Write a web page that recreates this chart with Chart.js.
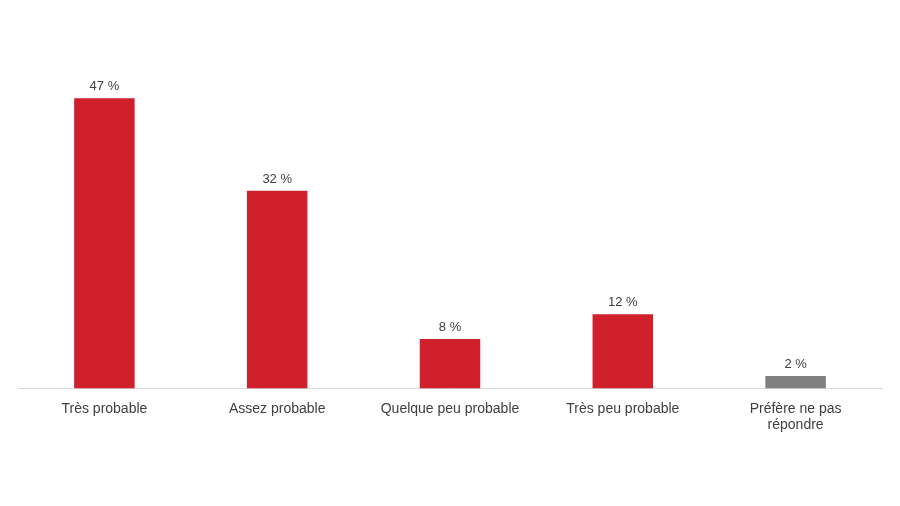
<!DOCTYPE html>
<html><head><meta charset="utf-8">
<script src="https://cdn.jsdelivr.net/npm/chart.js@4/dist/chart.umd.min.js"></script>
<style>html,body{margin:0;padding:0;background:#fff}#w{width:900px;height:506px}</style>
</head><body><div id="w"><canvas id="c"></canvas></div>
<script>
const categories = ["Très probable","Assez probable","Quelque peu probable","Très peu probable",["Préfère ne pas","répondre"]];
const values = [47,32,8,12,2];
const barColors = ["#D0202C","#D0202C","#D0202C","#D0202C","#808080"];
const valuePlugin = {id:'vals',afterDatasetsDraw(chart){
  const ctx=chart.ctx; const meta=chart.getDatasetMeta(0);
  ctx.save(); ctx.font='13px "Liberation Sans", Arial'; ctx.fillStyle='#404040'; ctx.textAlign='center'; ctx.textBaseline='bottom';
  meta.data.forEach((b,i)=>ctx.fillText(values[i]+' %',b.x,b.y-5));
  ctx.restore();}};
new Chart(document.getElementById('c'),{type:'bar',
 data:{labels:categories,datasets:[{data:values,backgroundColor:barColors,barPercentage:0.35,categoryPercentage:1}]},
 options:{responsive:true,maintainAspectRatio:false,animation:false,
  layout:{padding:{left:18,right:18,top:18,bottom:60}},
  plugins:{legend:{display:false},tooltip:{enabled:false}},
  scales:{
   x:{grid:{display:false,drawTicks:false},border:{color:'#D9D9D9'},ticks:{color:'#404040',padding:12,font:{family:'"Liberation Sans", Arial',size:14}}},
   y:{display:false,min:0,max:60}
  }},
 plugins:[valuePlugin]});
</script></body></html>
